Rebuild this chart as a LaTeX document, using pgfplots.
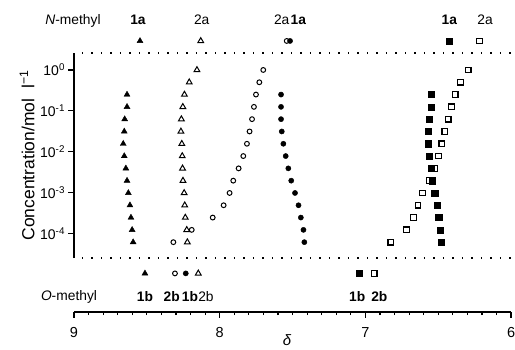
\documentclass[border=0pt]{standalone}
\usepackage{fontspec}
\setmainfont{Liberation Sans}
\usepackage{pgfplots}
\pgfplotsset{compat=1.18}
\newcommand{\lab}{\fontsize{13.8}{15}\selectfont}
\begin{document}
\begin{tikzpicture}[x=1pt,y=1pt]
\useasboundingbox (0,0) rectangle (515,349);
\begin{axis}[
  at={(74pt,91pt)}, anchor=south west,
  scale only axis, width=437.1pt, height=205pt,
  xmin=6, xmax=9, x dir=reverse,
  ymode=log, ymin=2.5e-5, ymax=2.6,
  axis x line=none, axis y line=left,
  axis line style={-, line width=1.2pt},
  ytick={1e-4,1e-3,1e-2,1e-1,1},
  yticklabels={10\textsuperscript{-4},10\textsuperscript{-3},10\textsuperscript{-2},10\textsuperscript{-1},10\textsuperscript{0}},
  yminorticks=false,
  tick align=outside, major tick length=5.5pt,
  tick style={line width=1.2pt, black},
  yticklabel style={font=\fontsize{14}{16}\selectfont},
  ylabel={Concentration/mol\ \ l\textsuperscript{−1}},
  ylabel style={at={(axis description cs:-0.1075,0.5)}, anchor=center, font=\fontsize{17.5}{20}\selectfont},
  clip=false,
]
% dotted separators
\addplot[line width=1.2pt, dash pattern=on 1.2pt off 8.3pt, dash phase=1.5pt] coordinates {(9,2.6) (5.985,2.6)};
\addplot[line width=1.2pt, dash pattern=on 1.2pt off 8.3pt, dash phase=1.5pt] coordinates {(9,2.5e-5) (5.985,2.5e-5)};
% 2a open triangles
\addplot[only marks, mark=triangle*, mark size=3.3pt, mark options={fill=white, draw=black, line width=1pt}] coordinates {
(8.156,1) (8.209,0.5) (8.242,0.25) (8.253,0.125) (8.263,0.0625) (8.266,0.03125) (8.260,0.015625) (8.257,0.0078125) (8.255,0.00390625) (8.252,0.001953125) (8.244,0.0009765625) (8.240,0.00048828125) (8.236,0.000244140625) (8.226,0.0001220703125) (8.222,0.00006103515625)};
% 1a filled triangles
\addplot[only marks, mark=triangle*, mark size=3.4pt, mark options={fill=black, draw=black}] coordinates {
(8.636,0.25) (8.636,0.125) (8.652,0.0625) (8.655,0.03125) (8.662,0.015625) (8.655,0.0078125) (8.644,0.00390625) (8.636,0.001953125) (8.627,0.0009765625) (8.616,0.00048828125) (8.609,0.000244140625) (8.601,0.0001220703125) (8.594,0.00006103515625)};
% open circles
\addplot[only marks, mark=*, mark size=2.4pt, mark options={fill=white, draw=black, line width=1pt}] coordinates {
(7.701,1) (7.728,0.5) (7.751,0.25) (7.765,0.125) (7.778,0.0625) (7.795,0.03125) (7.813,0.015625) (7.838,0.0078125) (7.870,0.00390625) (7.907,0.001953125) (7.932,0.0009765625) (7.973,0.00048828125) (8.048,0.000244140625) (8.192,0.0001220703125) (8.318,0.00006103515625)};
% filled circles
\addplot[only marks, mark=*, mark size=2.6pt, mark options={fill=black, draw=black}] coordinates {
(7.579,0.25) (7.579,0.125) (7.579,0.0625) (7.574,0.03125) (7.563,0.015625) (7.547,0.0078125) (7.529,0.00390625) (7.509,0.001953125) (7.483,0.0009765625) (7.459,0.00048828125) (7.443,0.000244140625) (7.425,0.0001220703125) (7.419,0.00006103515625)};
% open squares
\addplot[only marks, mark=square*, mark size=2.8pt, mark options={fill=white, draw=black, line width=1.2pt}] coordinates {
(6.294,1) (6.346,0.5) (6.383,0.25) (6.409,0.125) (6.431,0.0625) (6.455,0.03125) (6.476,0.015625) (6.498,0.0078125) (6.527,0.00390625) (6.562,0.001953125) (6.607,0.0009765625) (6.639,0.00048828125) (6.671,0.000244140625) (6.719,0.0001220703125) (6.826,0.00006103515625)};
% filled squares
\addplot[only marks, mark=square*, mark size=3.1pt, mark options={fill=black, draw=black}] coordinates {
(6.550,0.25) (6.550,0.125) (6.562,0.0625) (6.568,0.03125) (6.568,0.015625) (6.561,0.0078125) (6.548,0.00390625) (6.542,0.001953125) (6.524,0.0009765625) (6.506,0.00048828125) (6.497,0.000244140625) (6.486,0.0001220703125) (6.480,0.00006103515625)};
% N-methyl strip
\addplot[only marks, mark=triangle*, mark size=3.4pt, mark options={fill=black}] coordinates {(8.547,5.13)};
\addplot[only marks, mark=triangle*, mark size=3.3pt, mark options={fill=white, draw=black, line width=1pt}] coordinates {(8.130,5.13)};
\addplot[only marks, mark=*, mark size=2.4pt, mark options={fill=white, draw=black, line width=1pt}] coordinates {(7.540,5.13)};
\addplot[only marks, mark=*, mark size=2.6pt, mark options={fill=black}] coordinates {(7.517,5.13)};
\addplot[only marks, mark=square*, mark size=3.1pt, mark options={fill=black}] coordinates {(6.424,5.13)};
\addplot[only marks, mark=square*, mark size=2.8pt, mark options={fill=white, draw=black, line width=1.2pt}] coordinates {(6.218,5.13)};
% O-methyl strip
\addplot[only marks, mark=triangle*, mark size=3.4pt, mark options={fill=black}] coordinates {(8.513,1.05e-5)};
\addplot[only marks, mark=*, mark size=2.4pt, mark options={fill=white, draw=black, line width=1pt}] coordinates {(8.307,1.05e-5)};
\addplot[only marks, mark=*, mark size=2.6pt, mark options={fill=black}] coordinates {(8.233,1.05e-5)};
\addplot[only marks, mark=triangle*, mark size=3.3pt, mark options={fill=white, draw=black, line width=1pt}] coordinates {(8.147,1.05e-5)};
\addplot[only marks, mark=square*, mark size=3.1pt, mark options={fill=black}] coordinates {(7.042,1.05e-5)};
\addplot[only marks, mark=square*, mark size=2.8pt, mark options={fill=white, draw=black, line width=1.2pt}] coordinates {(6.939,1.05e-5)};
\end{axis}
\begin{axis}[
  at={(74pt,37pt)}, anchor=south west,
  scale only axis, width=437.1pt, height=20pt,
  xmin=6, xmax=9, x dir=reverse, ymin=0, ymax=1,
  axis x line=bottom, axis y line=none,
  axis line style={-, line width=1.2pt},
  xtick={6,7,8,9}, xticklabels={6,7,8,9},
  minor x tick num=9,
  tick align=outside, major tick length=5.5pt, minor tick length=3pt,
  tick style={line width=1.2pt, black},
  xticklabel style={font=\fontsize{14.5}{16}\selectfont, yshift=-6pt},
]
\addplot[draw=none] coordinates {(7,0.5)};
\end{axis}
\node[font=\lab] at (73,328.3) {\textit{N}-methyl};
\node[font=\lab] at (138,329) {\textbf{1a}};
\node[font=\lab] at (201.7,329) {2a};
\node[font=\lab] at (281.7,329) {2a};
\node[font=\lab] at (298.3,329) {\textbf{1a}};
\node[font=\lab] at (449.3,329) {\textbf{1a}};
\node[font=\lab] at (485,329) {2a};
\node[font=\lab] at (69,52.3) {\textit{O}-methyl};
\node[font=\lab] at (145,52.3) {\textbf{1b}};
\node[font=\lab] at (171.7,52.3) {\textbf{2b}};
\node[font=\lab] at (190,52.3) {\textbf{1b}};
\node[font=\lab] at (206,52.3) {2b};
\node[font=\lab] at (357.3,52.3) {\textbf{1b}};
\node[font=\lab] at (379.3,52.3) {\textbf{2b}};
\node[font=\fontsize{15}{17}\selectfont] at (287,9) {\textit{δ}};
\end{tikzpicture}
\end{document}
